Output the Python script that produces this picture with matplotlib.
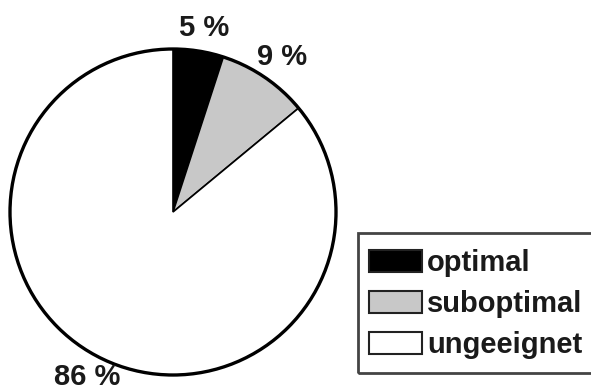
import matplotlib
matplotlib.use('Agg')
import matplotlib.pyplot as plt
from matplotlib.patches import Rectangle

labels = ['optimal', 'suboptimal', 'ungeeignet']
shares = [5, 9, 86]
colors = ['#000000', '#c8c8c8', '#ffffff']
pct_labels = ['5 %', '9 %', '86 %']
pct_pos = [(204, 362), (282, 333), (87, 13)]

plt.rcParams['font.family'] = ['Liberation Sans', 'DejaVu Sans']

fig = plt.figure(figsize=(5.91, 3.90), dpi=100)
ax = fig.add_axes([0, 0, 1, 1])

wedges, _ = ax.pie(shares, colors=colors, startangle=90, counterclock=False,
                   center=(173, 178), radius=163,
                   wedgeprops=dict(edgecolor='black', linewidth=1.2))
# outer ring drawn thicker
ax.add_patch(plt.Circle((173, 178), 163, fill=False, edgecolor='black', lw=2.4))

ax.set_xlim(0, 591)
ax.set_ylim(0, 390)
ax.set_aspect('equal')
ax.axis('off')

for txt, (x, y) in zip(pct_labels, pct_pos):
    ax.text(x, y, txt, ha='center', va='center', fontsize=21, fontweight='bold',
            color='#1a1a1a')

# legend frame runs off the right edge in the original
ax.add_patch(Rectangle((358, 17), 260, 140, fill=False, edgecolor='#444444',
                       lw=2, clip_on=False))

leg = ax.legend(wedges, labels, loc='upper left', bbox_to_anchor=(369, 141),
                bbox_transform=ax.transData, frameon=False, borderpad=0,
                borderaxespad=0, handlelength=1.8, handleheight=0.8,
                handletextpad=0.2, labelspacing=0.45,
                prop=dict(size=21, weight='bold'))
for h in leg.legend_handles:
    h.set_linewidth(1.5)
    h.set_edgecolor('#222222')
for t in leg.get_texts():
    t.set_color('#1a1a1a')

fig.savefig('out.png', dpi=100)
